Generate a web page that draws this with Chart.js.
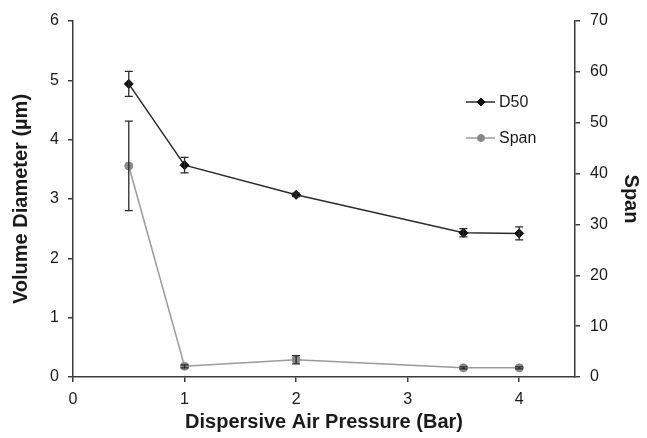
<!DOCTYPE html>
<html>
<head>
<meta charset="utf-8">
<script src="https://cdn.jsdelivr.net/npm/chart.js@4.4.1/dist/chart.umd.min.js"></script>
<style>
  html, body { margin: 0; padding: 0; background: #fff; }
  #wrap { width: 647px; height: 438px; position: relative; }
</style>
</head>
<body>
<div id="wrap"><canvas id="lineChart"></canvas></div>
<script>
const pressure = [0.5, 1, 2, 3.5, 4];
const d50 = [4.94, 3.57, 3.07, 2.43, 2.42];
const d50Err = [0.21, 0.13, 0.03, 0.07, 0.11];
const span = [41.5, 2.1, 3.4, 1.8, 1.8];
const spanErr = [8.8, 0.3, 0.8, 0.2, 0.2];
const leftTicks = [0, 1, 2, 3, 4, 5, 6];
const rightTicks = [0, 10, 20, 30, 40, 50, 60, 70];
const xTicks = [0, 1, 2, 3, 4];

const font = 'Liberation Sans, Arial, sans-serif';
const axisColor = '#3a3a3a';

// error bars, drawn from the data through the scales
const errorBars = {
    id: 'errorBars',
    afterDatasetsDraw(chart) {
        const ctx = chart.ctx;
        const xs = chart.scales.x;
        chart.data.datasets.forEach((ds) => {
            if (!ds.errors) return;
            const ys = chart.scales[ds.yAxisID];
            ctx.save();
            ctx.strokeStyle = '#2a2a2a';
            ctx.lineWidth = 1.3;
            ds.data.forEach((pt, i) => {
                const e = ds.errors[i];
                const px = xs.getPixelForValue(pt.x);
                const top = ys.getPixelForValue(pt.y + e);
                const bot = ys.getPixelForValue(pt.y - e);
                ctx.beginPath();
                ctx.moveTo(px, top); ctx.lineTo(px, bot);
                ctx.moveTo(px - 4, top); ctx.lineTo(px + 4, top);
                ctx.moveTo(px - 4, bot); ctx.lineTo(px + 4, bot);
                ctx.stroke();
            });
            ctx.restore();
        });
    }
};

// legend drawn inside the plot: line sample with marker
const insideLegend = {
    id: 'insideLegend',
    afterDraw(chart) {
        const ctx = chart.ctx;
        const x0 = 466, rows = [102, 138];
        chart.data.datasets.forEach((ds, i) => {
            const y = rows[i];
            ctx.save();
            ctx.strokeStyle = ds.borderColor;
            ctx.lineWidth = 1.5;
            ctx.beginPath();
            ctx.moveTo(x0, y); ctx.lineTo(x0 + 29, y);
            ctx.stroke();
            ctx.fillStyle = ds.backgroundColor;
            ctx.strokeStyle = ds.pointBorderColor;
            ctx.lineWidth = 1;
            Chart.helpers.drawPoint(ctx, {
                pointStyle: ds.pointStyle, radius: ds.pointRadius - 0.5, borderWidth: 1
            }, x0 + 15, y);
            ctx.fillStyle = '#1a1a1a';
            ctx.font = '16px ' + font;
            ctx.textBaseline = 'middle';
            ctx.fillText(ds.label, x0 + 33, y + 1);
            ctx.restore();
        });
    }
};

function fixTicks(list) {
    return (scale) => { scale.ticks = list.map(v => ({ value: v })); };
}

new Chart(document.getElementById('lineChart'), {
    type: 'scatter',
    data: {
        datasets: [
            {
                label: 'D50',
                data: pressure.map((p, i) => ({ x: p, y: d50[i] })),
                errors: d50Err,
                yAxisID: 'y',
                showLine: true,
                borderColor: '#2b2b2b',
                backgroundColor: '#111',
                pointBorderColor: '#111',
                pointStyle: 'rectRot',
                pointRadius: 4.5,
                pointBorderWidth: 1,
                borderWidth: 1.5
            },
            {
                label: 'Span',
                data: pressure.map((p, i) => ({ x: p, y: span[i] })),
                errors: spanErr,
                yAxisID: 'y2',
                showLine: true,
                borderColor: '#9a9a9a',
                backgroundColor: '#888',
                pointBorderColor: '#888',
                pointStyle: 'circle',
                pointRadius: 4,
                pointBorderWidth: 1,
                borderWidth: 1.5
            }
        ]
    },
    options: {
        responsive: true,
        maintainAspectRatio: false,
        animation: false,
        layout: { padding: { top: 21, right: 0, left: 0, bottom: 0 } },
        plugins: {
            legend: { display: false },
            tooltip: { enabled: false }
        },
        scales: {
            x: {
                type: 'linear',
                min: 0, max: 4.5,
                afterBuildTicks: fixTicks(xTicks),
                afterFit: (s) => { s.height = 61; },
                grid: { drawOnChartArea: false, tickLength: 5, color: axisColor, lineWidth: 1.5 },
                border: { color: axisColor, width: 1.5 },
                ticks: { color: '#1a1a1a', font: { family: font, size: 16 }, padding: 8 },
                title: { display: true, text: 'Dispersive Air Pressure (Bar)', color: '#1a1a1a',
                    font: { family: font, size: 20, weight: 'bold' }, padding: { top: 2 } }
            },
            y: {
                position: 'left',
                min: 0, max: 6,
                afterBuildTicks: fixTicks(leftTicks),
                afterFit: (s) => { s.width = 73; },
                grid: { drawOnChartArea: false, tickLength: 5, color: axisColor, lineWidth: 1.5 },
                border: { color: axisColor, width: 1.5 },
                ticks: { color: '#1a1a1a', font: { family: font, size: 16 }, padding: 9 },
                title: { display: true, text: 'Volume Diameter (µm)', color: '#1a1a1a',
                    font: { family: font, size: 20, weight: 'bold' }, padding: { top: 9 } }
            },
            y2: {
                position: 'right',
                min: 0, max: 70,
                afterBuildTicks: fixTicks(rightTicks),
                afterFit: (s) => { s.width = 72; },
                grid: { drawOnChartArea: false, tickLength: 5, color: axisColor, lineWidth: 1.5 },
                border: { color: axisColor, width: 1.5 },
                ticks: { color: '#1a1a1a', font: { family: font, size: 16 }, padding: 10 },
                title: { display: true, text: 'Span', color: '#1a1a1a',
                    font: { family: font, size: 20, weight: 'bold' }, padding: { bottom: 4 } }
            }
        }
    },
    plugins: [errorBars, insideLegend]
});
</script>
</body>
</html>
